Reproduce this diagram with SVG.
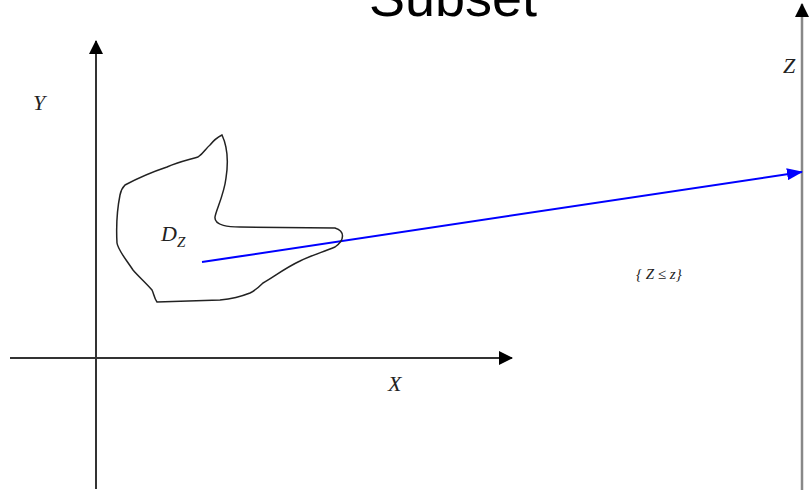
<svg xmlns="http://www.w3.org/2000/svg" width="810" height="492" viewBox="0 0 810 492">
<style>
.ax{stroke:#333;stroke-width:2;fill:none}
.lbl{font-family:"Liberation Serif",serif;font-style:italic;fill:#222}
</style>
<defs>
<marker id="ah" markerWidth="14" markerHeight="14" refX="13" refY="7" orient="auto" markerUnits="userSpaceOnUse"><path d="M0,0 L14,7 L0,14 Z" fill="#000"/></marker>
<marker id="ahb" markerWidth="16" markerHeight="12" refX="15" refY="6" orient="auto" markerUnits="userSpaceOnUse"><path d="M0,0 L16,6 L0,12 Z" fill="#00f"/></marker>
</defs>
<rect width="810" height="492" fill="#fff"/>
<text x="453" y="16" font-family="Liberation Sans,Arial,sans-serif" font-size="54" text-anchor="middle" fill="#000">Subset</text>
<g id="connectors">
<line class="ax" x1="96" y1="489" x2="96" y2="41" marker-end="url(#ah)"/>
<line class="ax" x1="10" y1="358" x2="512" y2="358" marker-end="url(#ah)"/>
<line x1="802" y1="490" x2="802" y2="4" stroke="#888" stroke-width="2.5" marker-end="url(#ah)"/>
<line x1="202" y1="262" x2="802" y2="172" stroke="#00f" stroke-width="2" marker-end="url(#ahb)"/>
</g>
<g id="region">
<path d="M222,135 C229,150 228,165 226,178 C224,195 216,210 215,217 C214,226 230,227 240,227 L335,228 C345,231 345,240 335,247 C320,253 310,256 300,261 C285,268 272,278 263,283 C258,288 254,291 250,293 C240,297 230,299 220,300 L157,302 C154,298 154,294 152,290 C145,282 138,276 133,270 C125,258 118,250 117,243 C116,225 118,205 120,195 C121,190 123,187 125,185 C140,177 152,172 167,167 C178,162 188,160 198,157 C204,153 206,148 210,145 C214,140 218,137 222,135 Z" fill="none" stroke="#222" stroke-width="1.5"/>
</g>
<g id="labels">
<text class="lbl" x="33" y="110" font-size="22">Y</text>
<text class="lbl" x="388" y="391" font-size="22">X</text>
<text class="lbl" x="783" y="73" font-size="22">Z</text>
<text class="lbl" x="161" y="241" font-size="22">D<tspan font-size="15" dy="6">Z</tspan></text>
<text class="lbl" x="636" y="279" font-size="15" font-style="normal">{ <tspan font-style="italic">Z</tspan> ≤ <tspan font-style="italic">z</tspan>}</text>
</g>
</svg>
